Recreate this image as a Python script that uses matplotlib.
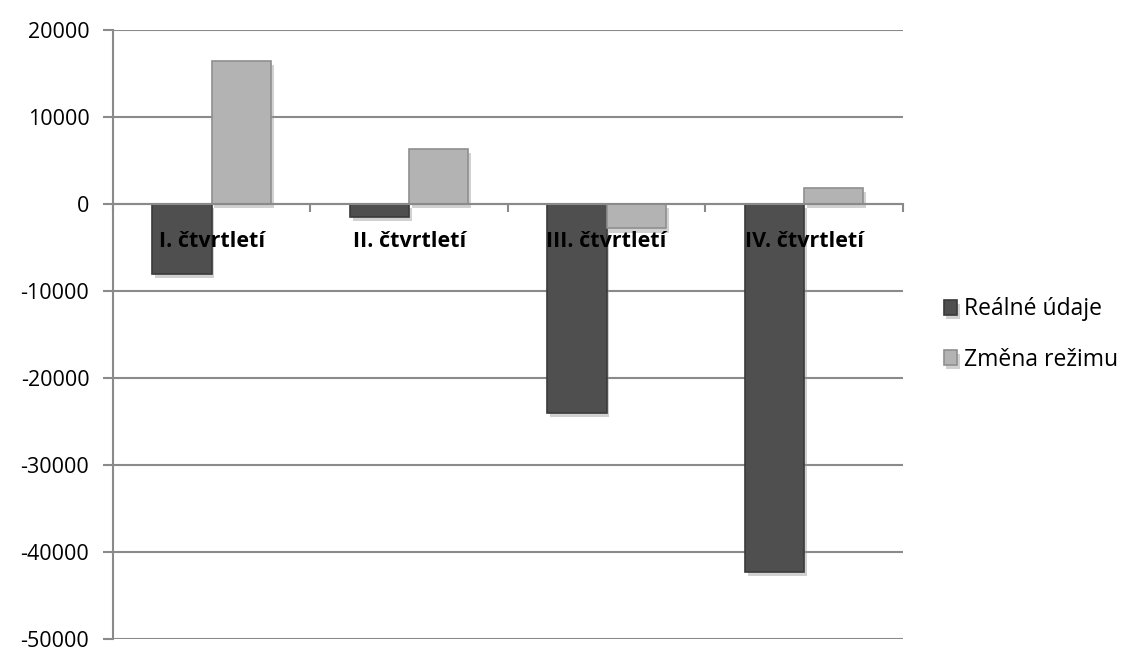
import numpy as np
import matplotlib
matplotlib.use("Agg")
import matplotlib.pyplot as plt
import matplotlib.patheffects as pe
from matplotlib.transforms import offset_copy

# data
categories = ["I. čtvrtletí", "II. čtvrtletí", "III. čtvrtletí", "IV. čtvrtletí"]
realne = [-8000, -1500, -24000, -42300]
zmena = [16400, 6300, -2800, 1800]
series_names = ["Reálné údaje", "Změna režimu"]

plt.rcParams['font.family'] = ['Open Sans', 'DejaVu Sans']
plt.rcParams['axes.unicode_minus'] = False

fig = plt.figure(figsize=(11.22, 6.5), dpi=100)
ax = fig.add_axes([0.1007, 0.0169, 0.704, 0.937])

x = np.arange(len(categories))
w = 0.3
shadow = [pe.SimplePatchShadow(offset=(2, -3), shadow_rgbFace='#999999', alpha=0.45), pe.Normal()]

b1 = ax.bar(x - w / 2, realne, w, color='#4f4f4f', edgecolor='#3a3a3a', linewidth=1.2, zorder=2,
            label=series_names[0])
b2 = ax.bar(x + w / 2, zmena, w, color='#b3b3b3', edgecolor='#8f8f8f', linewidth=1.2, zorder=2,
            label=series_names[1])
for bar in list(b1) + list(b2):
    bar.set_path_effects(shadow)

ax.set_xlim(-0.5, len(categories) - 0.5)
ax.set_ylim(-50000, 20000)
ax.set_yticks(np.arange(-50000, 20001, 10000))
ax.yaxis.grid(True, color='#8a8a8a', linewidth=1.5)
ax.set_axisbelow(True)

for s in ['top', 'right']:
    ax.spines[s].set_visible(False)
ax.spines['left'].set_color('#8a8a8a')
ax.spines['left'].set_linewidth(1.5)
ax.spines['bottom'].set_position(('data', 0))
ax.spines['bottom'].set_color('#8a8a8a')
ax.spines['bottom'].set_linewidth(1.5)

ax.set_xticks(np.arange(-0.5, len(categories), 1.0))
ax.set_xticklabels([])
ax.tick_params(axis='x', length=6, width=1.5, color='#8a8a8a', direction='out')
ax.tick_params(axis='y', length=7, width=1.5, color='#8a8a8a', labelsize=15.5, pad=10)

# category labels sit just under the zero line, drawn over the bars
trans = offset_copy(ax.transData, fig=fig, x=0, y=-38, units='dots')
for xi, lab in zip(x, categories):
    ax.text(xi, 0, lab, transform=trans, ha='center', va='center',
            fontsize=15.5, fontweight='bold', zorder=5)

ax.legend(loc='center left', bbox_to_anchor=(1.04, 0.50), frameon=False, fontsize=16.5,
          handlelength=0.6, handleheight=0.6, handletextpad=0.3, labelspacing=1.15,
          borderaxespad=0)

fig.savefig("out.png", dpi=100)
